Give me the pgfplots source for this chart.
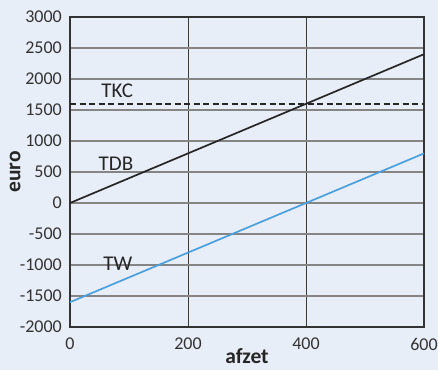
\documentclass[border=0pt]{standalone}
\usepackage{pgfplots}
\pgfplotsset{compat=1.18}
\usepackage{fontspec}
\setmainfont{Carlito}
\definecolor{bg}{HTML}{E8EEF8}
\definecolor{tw}{HTML}{4A9FDC}
\definecolor{hgrid}{HTML}{858585}
\definecolor{vgrid}{HTML}{3A3A3A}
\begin{document}
\begin{tikzpicture}
\fill[bg] (-70pt,-43pt) rectangle (368pt,327pt);
\useasboundingbox (-70pt,-43pt) rectangle (368pt,327pt);
\begin{axis}[
  at={(0pt,0pt)}, anchor=south west,
  scale only axis, width=354pt, height=310pt,
  xmin=0, xmax=600, ymin=-2000, ymax=3000,
  xtick={0,200,400,600}, ytick={-2000,-1500,...,3000},
  xmajorgrids, ymajorgrids,
  x grid style={vgrid, line width=1pt},
  y grid style={hgrid, line width=1.3pt},
  axis line style={black!80, line width=1.2pt},
  tick style={draw=none},
  /pgf/number format/assume math mode=true,
  /pgf/number format/1000 sep={},
  ticklabel style={font=\fontsize{18}{18}\selectfont, text=black!80},
  xticklabel style={anchor=center, yshift=-17pt},
  yticklabel style={anchor=east, inner sep=0pt, xshift=-8pt},
  xlabel={afzet}, ylabel={euro},
  label style={font=\fontsize{21.5}{21.5}\selectfont\bfseries, text=black!85},
  xlabel style={at={(axis description cs:0.5,-0.118)}, anchor=base, inner sep=0pt},
  ylabel style={at={(axis description cs:-0.155,0.5)}, anchor=center},
  clip=false,
]
\addplot[black!85, line width=1.7pt] coordinates {(0,0) (600,2400)};
\addplot[tw, line width=1.7pt] coordinates {(0,-1600) (600,800)};
\addplot[black!85, line width=1.7pt, dash pattern=on 6pt off 3.5pt] coordinates {(0,1600) (600,1600)};
\node[font=\fontsize{21}{21}\selectfont, text=black!85] at (axis cs:80,1806) {TKC};
\node[font=\fontsize{21}{21}\selectfont, text=black!85] at (axis cs:78,629) {TDB};
\node[font=\fontsize{21}{21}\selectfont, text=black!85] at (axis cs:81,-984) {TW};
\end{axis}
\end{tikzpicture}
\end{document}
